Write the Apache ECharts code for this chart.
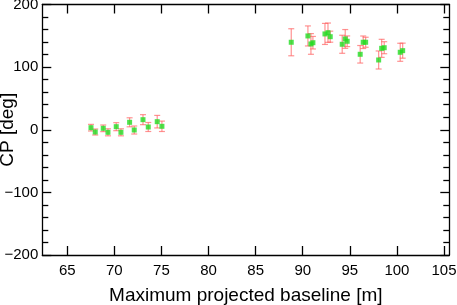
<!DOCTYPE html>
<html><head><meta charset="utf-8">
<script src="https://cdn.jsdelivr.net/npm/echarts@6/dist/echarts.min.js"></script>
<style>html,body{margin:0;padding:0;background:#fff}#c{width:457px;height:305px}</style>
</head><body><div id="c"></div>
<script>
const baseline = [67.52,67.97,68.82,69.32,70.20,70.70,71.62,72.11,73.04,73.60,74.55,75.05,
  88.78,90.55,90.87,91.08,92.36,92.68,92.92,94.19,94.51,94.72,96.10,96.42,96.68,98.06,98.38,98.65,100.35,100.61];
const cp = [3.3,-3.6,2.3,-4.1,4.9,-4.1,11.9,-0.4,16.1,4.4,12.9,5.5,
  139.7,149.8,137,139,153,155,148.6,136.5,145,141.3,120.5,139.7,139.7,111.4,130,131,123.7,126.3];
const cpErr = [5.3,4.8,5.3,5.6,6.4,5.6,7.2,6.4,8,7.2,10,8.3,
  21.6,16,16.5,10,16.8,15.4,8.8,14.4,15,8.5,14,10,8,14.4,14.4,9.6,14.4,12];
const xTicks = [65,70,75,80,85,90,95,100,105];

const pts = baseline.map((b,i)=>[b,cp[i]]);
const errData = baseline.map((b,i)=>[b,cp[i]-cpErr[i],cp[i]+cpErr[i]]);
const font = 'Liberation Sans, Arial, Helvetica, sans-serif';
const axisLine = {show:true, onZero:false, lineStyle:{color:'#000', width:1.3}};
const chart = echarts.init(document.getElementById('c'));
chart.setOption({
  animation:false,
  grid:{left:42.3, top:4.5, right:7.7, bottom:50, containLabel:false, outerBoundsMode:'none'},
  xAxis:[{
    type:'value', min:62.35, max:105.56, position:'bottom',
    name:'Maximum projected baseline [m]', nameLocation:'middle', nameGap:31, nameMoveOverlap:false,
    nameTextStyle:{fontFamily:font, fontSize:19, color:'#000'},
    axisLine:axisLine,
    axisTick:{show:true, inside:true, length:9, customValues:xTicks, lineStyle:{color:'#000',width:1.3}},
    axisLabel:{show:true, customValues:xTicks, fontFamily:font, fontSize:15, color:'#000', margin:8},
    splitLine:{show:false}
  },{
    type:'value', min:62.35, max:105.56, position:'top',
    axisLine:axisLine,
    axisTick:{show:true, inside:true, length:9, customValues:xTicks, lineStyle:{color:'#000',width:1.3}},
    axisLabel:{show:false}, splitLine:{show:false}
  }],
  yAxis:[{
    type:'value', min:-200, max:200, interval:100, position:'left',
    name:'CP [deg]', nameLocation:'middle', nameGap:25, nameMoveOverlap:false,
    nameTextStyle:{fontFamily:font, fontSize:19, color:'#000'},
    axisLine:axisLine,
    axisTick:{show:true, inside:true, length:9, lineStyle:{color:'#000',width:1.3}},
    minorTick:{show:true, splitNumber:5, length:6, lineStyle:{color:'#000',width:1.3}},
    axisLabel:{fontFamily:font, fontSize:15, color:'#000', margin:4,
      formatter:v=>v<0?'\u2212'+Math.abs(v):String(v)},
    splitLine:{show:false}
  },{
    type:'value', min:-200, max:200, interval:100, position:'right',
    axisLine:axisLine,
    axisTick:{show:true, inside:true, length:9, lineStyle:{color:'#000',width:1.3}},
    minorTick:{show:true, splitNumber:5, length:6, lineStyle:{color:'#000',width:1.3}},
    axisLabel:{show:false}, splitLine:{show:false}
  }],
  series:[{
    type:'custom', xAxisIndex:0, yAxisIndex:0,
    data:errData,
    renderItem:function(params, api){
      const x = api.value(0);
      const lo = api.coord([x, api.value(1)]);
      const hi = api.coord([x, api.value(2)]);
      const w = 3;
      const st = {stroke:'rgba(255,100,100,0.7)', lineWidth:1.2};
      return {type:'group', children:[
        {type:'line', shape:{x1:lo[0],y1:lo[1],x2:hi[0],y2:hi[1]}, style:st},
        {type:'line', shape:{x1:lo[0]-w,y1:lo[1],x2:lo[0]+w,y2:lo[1]}, style:st},
        {type:'line', shape:{x1:hi[0]-w,y1:hi[1],x2:hi[0]+w,y2:hi[1]}, style:st}
      ]};
    },
    z:1
  },{
    type:'scatter', xAxisIndex:0, yAxisIndex:0,
    data:pts, symbol:'rect', symbolSize:5,
    itemStyle:{color:'#22dd22'}, z:2
  }]
});
</script></body></html>
